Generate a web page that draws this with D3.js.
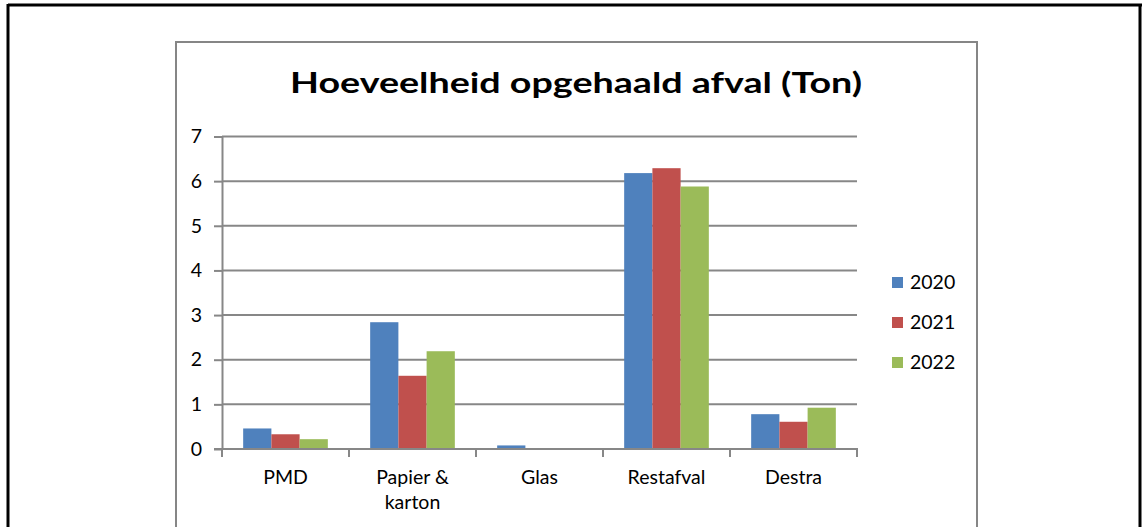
<!DOCTYPE html>
<html>
<head>
<meta charset="utf-8">
<script src="https://cdn.jsdelivr.net/npm/d3@7"></script>
<style>
  html, body { margin: 0; padding: 0; background: #fff; }
  svg { display: block; }
  text { font-family: Lato, "Open Sans", sans-serif; }
</style>
</head>
<body>
<script>
const categories = ["PMD", "Papier & karton", "Glas", "Restafval", "Destra"];
const categoryLines = [["PMD"], ["Papier &", "karton"], ["Glas"], ["Restafval"], ["Destra"]];
const seriesNames = ["2020", "2021", "2022"];
const values2020 = [0.46, 2.84, 0.08, 6.18, 0.78];
const values2021 = [0.33, 1.64, 0, 6.29, 0.61];
const values2022 = [0.22, 2.19, 0, 5.88, 0.925];
const yTicks = [0, 1, 2, 3, 4, 5, 6, 7];
const colors = ["#4F81BD", "#C0504D", "#9BBB59"];
const titleText = "Hoeveelheid opgehaald afval (Ton)";

const series = [values2020, values2021, values2022];

(function draw() {
const W = 1142, H = 527;
const FS = 19.5;
const svg = d3.select("body").append("svg").attr("width", W).attr("height", H);

// outer black frame
svg.append("line").attr("x1", 8).attr("x2", 1142).attr("y1", 5).attr("y2", 5)
  .attr("stroke", "#000").attr("stroke-width", 3);
svg.append("line").attr("x1", 8).attr("x2", 8).attr("y1", 4).attr("y2", H)
  .attr("stroke", "#000").attr("stroke-width", 3);
svg.append("line").attr("x1", 1140).attr("x2", 1140).attr("y1", 4).attr("y2", H)
  .attr("stroke", "#000").attr("stroke-width", 3);

// chart box
svg.append("rect").attr("x", 176).attr("y", 42).attr("width", 801).attr("height", 520)
  .attr("fill", "#fff").attr("stroke", "#868686").attr("stroke-width", 2);

// title
svg.append("text").attr("x", 290).attr("y", 93)
  .attr("font-size", 28.5).attr("font-weight", "bold").attr("fill", "#000")
  .attr("textLength", 572).attr("lengthAdjust", "spacingAndGlyphs")
  .text(titleText);

const pLeft = 222, pRight = 857, pTop = 136.5, pBottom = 449;
const x = d3.scaleBand().domain(categories).range([pLeft, pRight]).paddingInner(0).paddingOuter(0);
const y = d3.scaleLinear().domain([0, 7]).range([pBottom, pTop]);
const bw = x.bandwidth() / 4.5;
const xs = d3.scaleBand().domain(seriesNames).range([0.75 * bw, 3.75 * bw]).padding(0);

const gridColor = "#878787";

// gridlines
svg.append("g").selectAll("line").data(yTicks.filter(d => d > 0)).join("line")
  .attr("x1", pLeft).attr("x2", pRight)
  .attr("y1", d => y(d)).attr("y2", d => y(d))
  .attr("stroke", gridColor).attr("stroke-width", 2);

// bars
seriesNames.forEach((s, si) => {
  svg.append("g").selectAll("rect").data(categories).join("rect")
    .attr("x", c => x(c) + xs(s))
    .attr("width", xs.bandwidth())
    .attr("y", (c, i) => y(series[si][i]))
    .attr("height", (c, i) => y(0) - y(series[si][i]))
    .attr("fill", colors[si]);
});

// y axis
const yAxis = svg.append("g").attr("transform", `translate(${pLeft},0)`)
  .call(d3.axisLeft(y).tickValues(yTicks).tickFormat(d3.format("d")).tickSize(8).tickSizeOuter(0).tickPadding(12));
yAxis.select(".domain").attr("stroke", gridColor).attr("stroke-width", 2);
yAxis.selectAll(".tick line").attr("stroke", gridColor).attr("stroke-width", 2);
yAxis.selectAll(".tick text").attr("font-size", FS).attr("fill", "#000")
  .attr("font-family", "Lato, 'Open Sans', sans-serif");

// x axis line
svg.append("line").attr("x1", pLeft - 8).attr("x2", pRight + 1).attr("y1", pBottom).attr("y2", pBottom)
  .attr("stroke", gridColor).attr("stroke-width", 2);
// x category ticks at band boundaries
const boundaries = categories.map(c => x(c)).concat([x.range()[1]]);
svg.append("g").selectAll("line").data(boundaries).join("line")
  .attr("x1", d => d).attr("x2", d => d)
  .attr("y1", pBottom).attr("y2", pBottom + 8)
  .attr("stroke", gridColor).attr("stroke-width", 2);

// category labels
const lab = svg.append("g").selectAll("text").data(categories).join("text")
  .attr("x", c => x(c) + x.bandwidth() / 2)
  .attr("y", 484)
  .attr("text-anchor", "middle").attr("font-size", FS).attr("fill", "#000");
lab.each(function(c, i) {
  d3.select(this).selectAll("tspan").data(categoryLines[i]).join("tspan")
    .attr("x", x(c) + x.bandwidth() / 2)
    .attr("dy", (d, j) => j === 0 ? 0 : 25)
    .text(d => d);
});

// legend
const lg = svg.append("g").selectAll("g").data(seriesNames).join("g")
  .attr("transform", (d, i) => `translate(892, ${277 + i * 40})`);
lg.append("rect").attr("width", 11).attr("height", 11).attr("fill", (d, i) => colors[i]);
lg.append("text").attr("x", 18).attr("y", 12).attr("font-size", FS).attr("fill", "#000").text(d => d);
})();
</script>
</body>
</html>
